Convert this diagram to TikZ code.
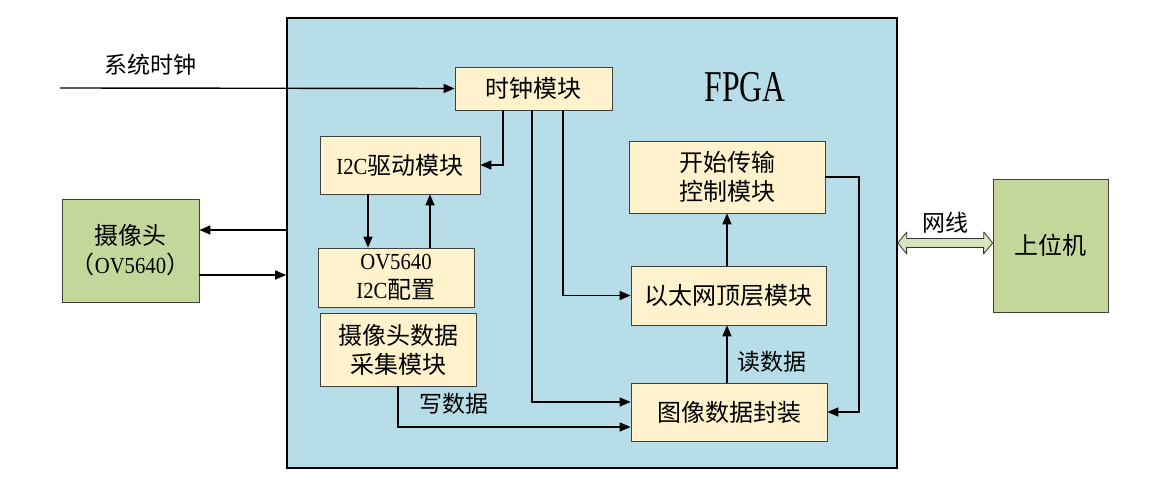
\documentclass[tikz,border=0pt]{standalone}
\usepackage{fontspec}
\setmainfont{Liberation Serif}
\newfontfamily\cjk{Noto Sans CJK SC}
\usepackage{xcolor}
\usepackage{graphicx}
\usepackage{tikz}
\usetikzlibrary{arrows.meta}
\definecolor{fpgablue}{HTML}{B7DDE8}
\definecolor{modcream}{HTML}{FFF2CC}
\definecolor{devgreen}{HTML}{C4D79B}
\definecolor{cablegreen}{HTML}{D8E4BC}
\newcommand{\en}[1]{{\fontsize{23}{29}\selectfont\rmfamily\scalebox{0.9}[1]{#1}}}
\tikzset{
mod/.style = {rectangle, draw=black!75, fill=modcream, line width=0.8pt,
              align=center, inner sep=0pt, font=\cjk\fontsize{24}{29}\selectfont},
dev/.style = {mod, fill=devgreen},
lbl/.style = {inner sep=0pt, font=\cjk\fontsize{23}{28}\selectfont},
cable/.style = {draw=black!80, fill=cablegreen, line width=0.8pt, line join=round}
}

\begin{document}
\begin{tikzpicture}[x=1pt, y=-1pt, line width=1.4pt,
  >={Triangle[length=11pt,width=9pt]}]
\useasboundingbox (0,0) rectangle (1167,486);

% FPGA frame
\node[rectangle, draw=black, fill=fpgablue, line width=1.6pt,
      minimum width=610pt, minimum height=450pt] (fpga) at (592,243) {};
\node[inner sep=0pt, font=\fontsize{44}{48}\selectfont] (fpgatxt) at (745,87)
      {\scalebox{0.72}[1]{FPGA}};

% modules
\node[mod, minimum width=157pt, minimum height=43pt] (clk) at (533.5,88.5) {时钟模块};
\node[mod, minimum width=160pt, minimum height=58pt] (i2cdrv) at (400,165) {\en{I2C}驱动模块};
\node[mod, minimum width=156pt, minimum height=59pt] (i2ccfg) at (396,277.5) {\en{OV5640}\\\en{I2C}配置};
\node[mod, minimum width=156pt, minimum height=73pt] (capture) at (398,349.5) {摄像头数据\\采集模块};
\node[mod, minimum width=196pt, minimum height=72pt] (txctrl) at (727,177) {开始传输\\控制模块};
\node[mod, minimum width=195pt, minimum height=59pt] (eth) at (728.5,295.5) {以太网顶层模块};
\node[mod, minimum width=196pt, minimum height=58pt] (pack) at (729,412) {图像数据封装};

% outside devices
\node[dev, minimum width=137pt, minimum height=103pt] (camera) at (130.5,250.5)
      {摄像头\\（\en{OV5640}）};
\node[dev, minimum width=115pt, minimum height=133pt] (host) at (1050.5,245.5) {上位机};

\coordinate (sysclk) at (60,88);
\node[lbl] (sysclktxt) at (150,65) {系统时钟};
\node[lbl] (nettxt) at (945,223) {网线};
\node[lbl] (wrtxt) at (454,404) {写数据};
\node[lbl] (rdtxt) at (772,362) {读数据};

% connections
\draw [->] (sysclk) -- (clk.west);
\draw [->] (503,0 |- clk.south) |- (i2cdrv.east);
\draw [->] (532,0 |- clk.south) |- (pack.west |- 0,402);
\draw [->] (563,0 |- clk.south) |- (eth.west);
\draw [->] (368,0 |- i2cdrv.south) -- (368,0 |- i2ccfg.north);
\draw [->] (430,0 |- i2ccfg.north) -- (430,0 |- i2cdrv.south);
\draw [->] (capture.south) |- (pack.west |- 0,427);
\draw [->] (727,0 |- pack.north) -- (727,0 |- eth.south);
\draw [->] (727,0 |- eth.north) -- (727,0 |- txctrl.south);
\draw [->] (txctrl.east) -- (859,0 |- txctrl.east) |- (pack.east);
\draw [->] (fpga.west |- 0,230) -- (camera.east |- 0,230);
\draw [->] (camera.east |- 0,275) -- (fpga.west |- 0,275);

% network cable (hollow double arrow)
\draw [cable] (fpga.east) -- ++(9,-11) -- ++(0,6.5) -- ++(77,0) -- ++(0,-6.5)
      -- (host.west |- fpga.east) -- ++(-9,11) -- ++(0,-6.5) -- ++(-77,0)
      -- ++(0,6.5) -- cycle;
\end{tikzpicture}
\end{document}
